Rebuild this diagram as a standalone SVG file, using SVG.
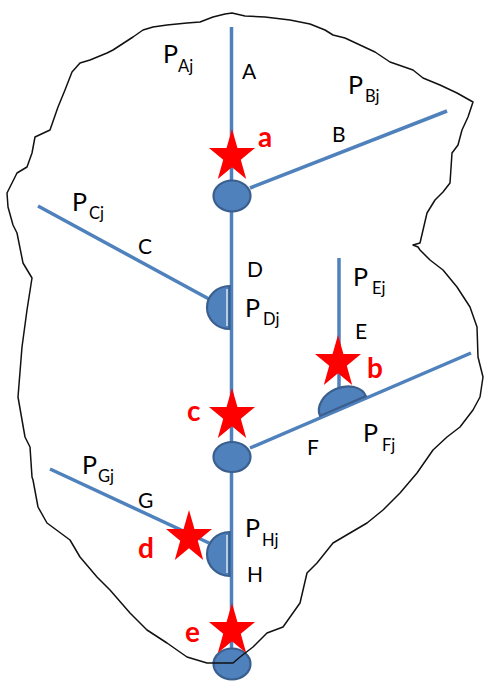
<svg xmlns="http://www.w3.org/2000/svg" width="486" height="681" viewBox="0 0 486 681">
<style>
.ln{stroke:#4f81bd;stroke-width:3.5;fill:none;stroke-linecap:butt}
.nd{fill:#4f81bd;stroke:#3a5f8e;stroke-width:2.2}
.st{fill:#ff0000}
.p{font-family:Lato,"Open Sans",sans-serif;font-size:25px;fill:#000}
.sub{font-size:16.5px}
.lb{font-family:Lato,"Open Sans",sans-serif;font-size:21px;fill:#000}
.rd{font-family:Lato,"Open Sans",sans-serif;font-size:28px;font-weight:bold;fill:#ff0000}
.wl{stroke:#ffffff;stroke-width:1.2}
</style>
<defs>
<path id="star" d="M0,-27.6 L5.44,-8.53 L23,-8.53 L8.8,3.26 L14.2,22.3 L0,10.55 L-14.2,22.3 L-8.8,3.26 L-23,-8.53 L-5.44,-8.53 Z"/>
</defs>
<rect width="486" height="681" fill="#ffffff"/>
<g id="connectors">
<line class="ln" x1="231.5" y1="27" x2="231.5" y2="662"/>
<line class="ln" x1="250" y1="188" x2="447" y2="111"/>
<line class="ln" x1="38" y1="206" x2="209" y2="299"/>
<line class="ln" x1="339" y1="258" x2="339" y2="392"/>
<line class="ln" x1="250" y1="448" x2="471" y2="353"/>
<line class="ln" x1="50" y1="469" x2="209" y2="543"/>
</g>
<g id="node-a"><ellipse class="nd" cx="232" cy="196" rx="18.5" ry="15.5"/></g>
<g id="node-c"><ellipse class="nd" cx="232" cy="457" rx="18.5" ry="15"/></g>
<g id="node-e"><ellipse class="nd" cx="232" cy="664" rx="18.5" ry="15.5"/></g>
<g id="node-D"><path class="nd" d="M229.5,286 A22.5,21.5 0 0 0 229.5,329 Z"/><line class="wl" x1="227" y1="289" x2="227" y2="326"/></g>
<g id="node-H"><path class="nd" d="M229.5,532 A22.5,22 0 0 0 229.5,576 Z"/><line class="wl" x1="227" y1="535" x2="227" y2="573"/></g>
<g id="node-F"><path class="nd" transform="translate(343,406) rotate(-23.3)" d="M-25,0 A25,18.5 0 0 1 25,0 Z"/></g>
<g id="stars">
<use href="#star" class="st" x="232" y="156.6"/>
<use href="#star" class="st" x="338" y="362.6"/>
<use href="#star" class="st" x="232" y="415.6"/>
<use href="#star" class="st" x="189" y="537.6"/>
<use href="#star" class="st" x="232" y="630.6"/>
</g>
<g id="labels">
<text class="p" x="163" y="63">P<tspan class="sub" x="178" y="72">Aj</tspan></text>
<text class="p" x="348" y="94">P<tspan class="sub" x="365" y="102">Bj</tspan></text>
<text class="p" x="72" y="211">P<tspan class="sub" x="89" y="219">Cj</tspan></text>
<text class="p" x="245" y="317">P<tspan class="sub" x="263" y="325">Dj</tspan></text>
<text class="p" x="353" y="286">P<tspan class="sub" x="372" y="294">Ej</tspan></text>
<text class="p" x="363" y="442">P<tspan class="sub" x="382" y="451">Fj</tspan></text>
<text class="p" x="82" y="474">P<tspan class="sub" x="98" y="482">Gj</tspan></text>
<text class="p" x="245" y="537">P<tspan class="sub" x="262" y="546">Hj</tspan></text>
<text class="lb" x="242" y="79">A</text>
<text class="lb" x="332" y="142">B</text>
<text class="lb" x="138" y="254">C</text>
<text class="lb" x="247" y="277">D</text>
<text class="lb" x="355" y="339">E</text>
<text class="lb" x="307" y="455">F</text>
<text class="lb" x="138" y="508">G</text>
<text class="lb" x="247" y="582">H</text>
<text class="rd" x="258" y="147">a</text>
<text class="rd" x="367" y="378">b</text>
<text class="rd" x="187" y="421">c</text>
<text class="rd" x="138" y="558">d</text>
<text class="rd" x="185" y="642">e</text>
</g>
<g id="outline">
<polygon fill="none" stroke="#111" stroke-width="1.5" stroke-linejoin="round" points="232,13 245,16 265,17 290,20 310,24 325,30 333,35 345,38 360,45 375,52 390,62 413,70 423,78 440,85 457,93 473,102 468,117 462,130 458,145 452,153 450,183 443,192 435,200 427,213 420,243 413,245 418,247 420,250 430,260 443,270 457,287 470,307 477,327 478,357 483,377 480,397 473,410 460,427 447,437 433,450 417,473 400,493 383,510 367,523 350,533 333,543 317,563 307,573 300,603 283,627 267,633 253,647 240,657 233,663 207,663 187,657 167,643 147,630 130,613 110,590 97,577 80,557 70,540 47,523 38,507 33,480 32,477 30,447 25,437 18,397 22,347 27,310 32,278 23,263 17,233 13,225 8,207 7,193 17,173 27,167 32,153 35,137 50,130 58,107 65,90 72,72 80,63 90,60 107,53 113,50 133,37 143,30 153,27 167,25 187,23 200,22 213,17 225,14"/>
</g>
</svg>
